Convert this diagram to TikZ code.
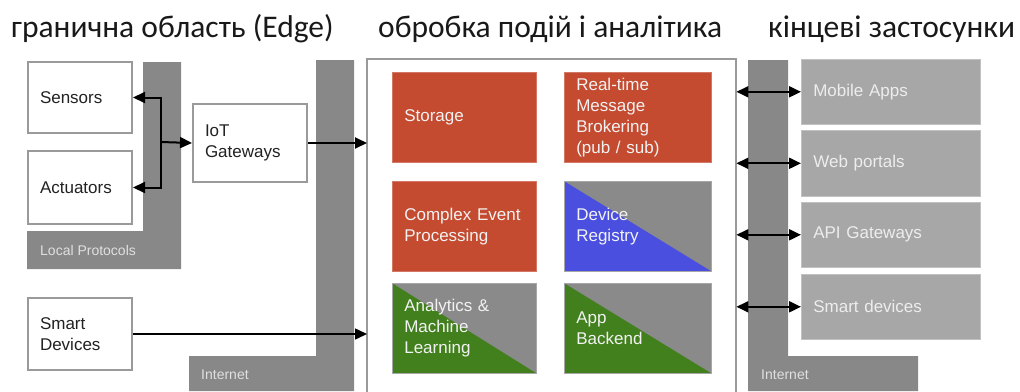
\documentclass[tikz,border=0pt]{standalone}
\usepackage{fontspec}
\setmainfont{Liberation Sans}
\newfontfamily\headfont{Carlito}
\usetikzlibrary{arrows.meta}
\definecolor{cred}{RGB}{196,75,48}
\definecolor{cgreen}{RGB}{66,128,30}
\definecolor{cblue}{RGB}{74,79,224}
\definecolor{cgray}{RGB}{138,138,138}
\definecolor{strip}{RGB}{136,136,136}
\definecolor{rgray}{RGB}{167,167,167}
\definecolor{bgray}{RGB}{154,154,154}
\definecolor{dtext}{RGB}{34,34,34}
\begin{document}
\begin{tikzpicture}[x=1pt,y=-1pt,
  body/.style={font=\fontsize{17}{21}\selectfont},
  wbox/.style={body, draw=bgray, line width=2pt, fill=white, text=dtext, anchor=north west, inner xsep=12pt, inner ysep=0pt, align=left},
  cbox/.style={body, fill=#1, draw=#1!75!white, line width=0.6pt, text=white!95!black, anchor=north west, inner xsep=12pt, inner ysep=0pt, align=left},
  tri/.style={body, fill=cgray, draw=cgray!75!white, line width=0.6pt, text=white!95!black, anchor=north west, inner xsep=12pt, inner ysep=0pt, align=left,
    path picture={\fill[#1] (path picture bounding box.north west) -- (path picture bounding box.south west) -- (path picture bounding box.south east) -- cycle;}},
  rbox/.style={body, fill=rgray, draw=rgray!70!white, line width=0.6pt, text=white!93!black, anchor=north west, inner xsep=12pt, inner ysep=0pt, align=left, minimum width=179, text width=155},
  lbl/.style={font=\fontsize{14}{16}\selectfont, text=white!88!black, anchor=west, inner sep=0pt},
  head/.style={font=\headfont\fontsize{31.5}{36}\selectfont, text=black!90, anchor=base west, inner sep=0pt},
  arr/.style={line width=2pt, -{Triangle[length=12pt,width=11pt]}},
  darr/.style={line width=2pt, {Triangle[length=12pt,width=11pt]}-{Triangle[length=12pt,width=11pt]}},
  outline/.style={draw=bgray, line width=2pt}
]
\useasboundingbox (0,0) rectangle (1020,391);

% headings
\node[head] (h1) at (11,37) {гранична область (Edge)};
\node[head] (h2) at (378,37) {обробка подій і аналітика};
\node[head] (h3) at (768,37) {кінцеві застосунки};

% grey protocol strips
\fill[strip] (143,62) -- (181,62) -- (181,269) -- (27,269) -- (27,231) -- (143,231) -- cycle;
\fill[strip] (316,60) -- (354,60) -- (354,391) -- (189,391) -- (189,356) -- (316,356) -- cycle;
\fill[strip] (748,60) -- (788,60) -- (788,356) -- (918,356) -- (918,391) -- (748,391) -- cycle;
\node[lbl] (lp) at (40,250) {Local Protocols};
\node[lbl] (in1) at (201,375) {Internet};
\node[lbl] (in2) at (761,375) {Internet};

% edge devices
\node[wbox, minimum width=104, minimum height=71, text width=80] (sensors) at (27,61) {Sensors};
\node[wbox, minimum width=104, minimum height=73, text width=80] (actuators) at (27,150) {Actuators};
\node[wbox, minimum width=104, minimum height=72, text width=80] (smart) at (27,297) {Smart\\Devices};
\node[wbox, minimum width=114, minimum height=78, text width=90] (iot) at (192,103) {IoT\\Gateways};

% central processing area
\node[minimum width=369, minimum height=333, anchor=north west, inner sep=0pt] (center) at (367,59) {};
\draw[outline] (center.south west) |- (center.north east) -- (center.south east);

\node[cbox=cred, minimum width=144, minimum height=90, text width=120] (storage) at (392,72) {Storage};
\node[cbox=cred, minimum width=147, minimum height=90, text width=123] (rt) at (564,72) {Real-time\\Message\\Brokering\\(pub / sub)};
\node[cbox=cred, minimum width=144, minimum height=90, text width=120] (cep) at (392,181) {Complex Event\\Processing};
\node[tri=cblue, minimum width=147, minimum height=90, text width=123] (devreg) at (564,181) {Device\\Registry};
\node[tri=cgreen, minimum width=144, minimum height=90, text width=120] (analytics) at (392,283) {Analytics \&\\Machine\\Learning};
\node[tri=cgreen, minimum width=147, minimum height=90, text width=123] (app) at (564,283) {App\\Backend};

% end applications
\node[rbox, minimum height=65] (mobile) at (801,59) {Mobile Apps};
\node[rbox, minimum height=66] (web) at (801,130) {Web portals};
\node[rbox, minimum height=65] (api) at (801,202) {API Gateways};
\node[rbox, minimum height=65] (smartd) at (801,274) {Smart devices};

% connectors
\coordinate (j) at (161,142);
\draw[arr] (j) -- (iot.west);
\draw[arr] (j) |- (sensors.east);
\draw[arr] (j) |- (actuators.east);
\draw[arr] (iot.east) -- (iot.east -| center.west);
\draw[arr, line width=1.6pt] (smart.east) -- (smart.east -| center.west);
\draw[darr] (mobile.west -| center.east) -- (mobile.west);
\draw[darr] (web.west -| center.east) -- (web.west);
\draw[darr] (api.west -| center.east) -- (api.west);
\draw[darr] (smartd.west -| center.east) -- (smartd.west);
\end{tikzpicture}
\end{document}
